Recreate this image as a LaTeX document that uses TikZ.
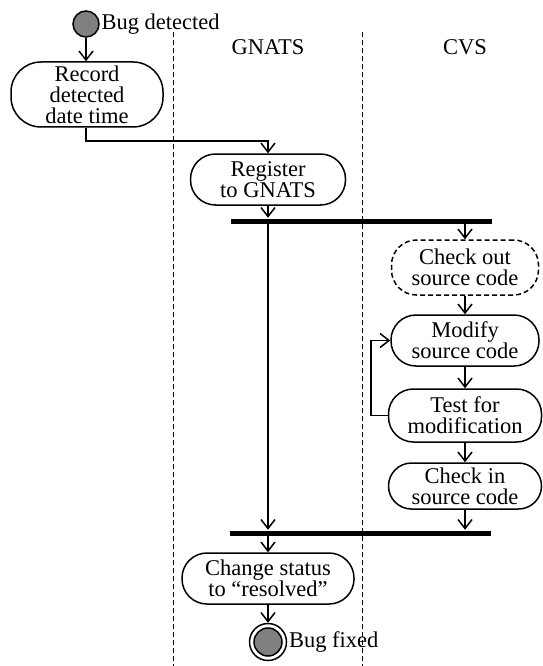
\documentclass[tikz,border=0pt]{standalone}
\usepackage{fontspec}
\setmainfont{Liberation Serif}
\usetikzlibrary{arrows.meta}
\usetikzlibrary{calc}

\begin{document}
\begin{tikzpicture}[x=1pt, y=-1pt, line width=1.5pt, font=\fontsize{22.5}{21}\selectfont,
  act/.style = {draw, rectangle, rounded corners=25pt, align=center, inner sep=0pt, minimum height=51pt},
  bar/.style = {fill, inner sep=0pt, minimum height=5pt, minimum width=261pt},
  flow/.style = {-{Straight Barb[length=9pt, width=14pt]}},
  lane/.style = {line width=1pt, dash pattern=on 5pt off 3pt}]
    \useasboundingbox (0,0) rectangle (542,666);
    % swimlanes
    \draw[lane] (173,32) -- (173,666);
    \draw[lane] (362,32) -- (362,666);
    \node (g) at (268,47) {GNATS};
    \node (c) at (465,47) {CVS};
    % start
    \node[draw, circle, fill=gray, minimum size=26pt, inner sep=0pt] (1) at (86,24) {};
    \node[anchor=west, inner sep=1pt] (1l) at (1.east) {Bug detected};
    \node[act, minimum width=152pt, minimum height=65pt, rounded corners=30pt] (2) at (87,94.5) {Record\\detected\\date time};
    \node[act, minimum width=155pt] (3) at (268,179.5) {Register\\to GNATS};
    \node[bar] (b1) at (361,221) {};
    % CVS column
    \node[act, dashed, dash pattern=on 5pt off 3pt, minimum width=147pt, minimum height=55pt] (4) at (465,267.5) {Check out\\source code};
    \node[act, minimum width=148pt] (5) [below of = 4, node distance=73pt] {Modify\\source code};
    \node[act, minimum width=153pt, minimum height=53pt] (6) [below of = 5, node distance=75pt] {Test for\\modification};
    \node[act, minimum width=153pt, minimum height=46pt, rounded corners=23pt] (7) [below of = 6, node distance=70.5pt] {Check in\\source code};
    \node[bar] (b2) at (360,533) {};
    \node[act, minimum width=172pt] (8) at (268,578.5) {Change status\\to “resolved”};
    % end
    \node[draw, circle, minimum size=37pt, inner sep=0pt] (9) at (268,642) {};
    \node[draw, circle, fill=gray, minimum size=28pt, inner sep=0pt] (9i) at (9) {};
    \node[anchor=west, inner sep=1pt] (9l) at (9.east) {Bug fixed};
    % flows
    \draw[flow] (1.south) -- (1.south |- 2.north);
    \draw[flow] (1.south |- 2.south) -- ++(0,13) -| (3.north);
    \draw[flow] (3.south) -- (3 |- b1.north);
    \draw[flow] (3 |- b1.south) -- (3 |- b2.north);
    \draw[flow] (4 |- b1.south) -- (4.north);
    \draw[flow] (4.south) -- (5.north);
    \draw[flow] (5.south) -- (6.north);
    \draw[flow] (6.south) -- (7.north);
    \draw[flow] (6.west) -- ++(-17,0) |- (5.west);
    \draw[flow] (7.south) -- (7 |- b2.north);
    \draw[flow] (8 |- b2.south) -- (8.north);
    \draw[flow] (8.south) -- (9.north);
\end{tikzpicture}
\end{document}
